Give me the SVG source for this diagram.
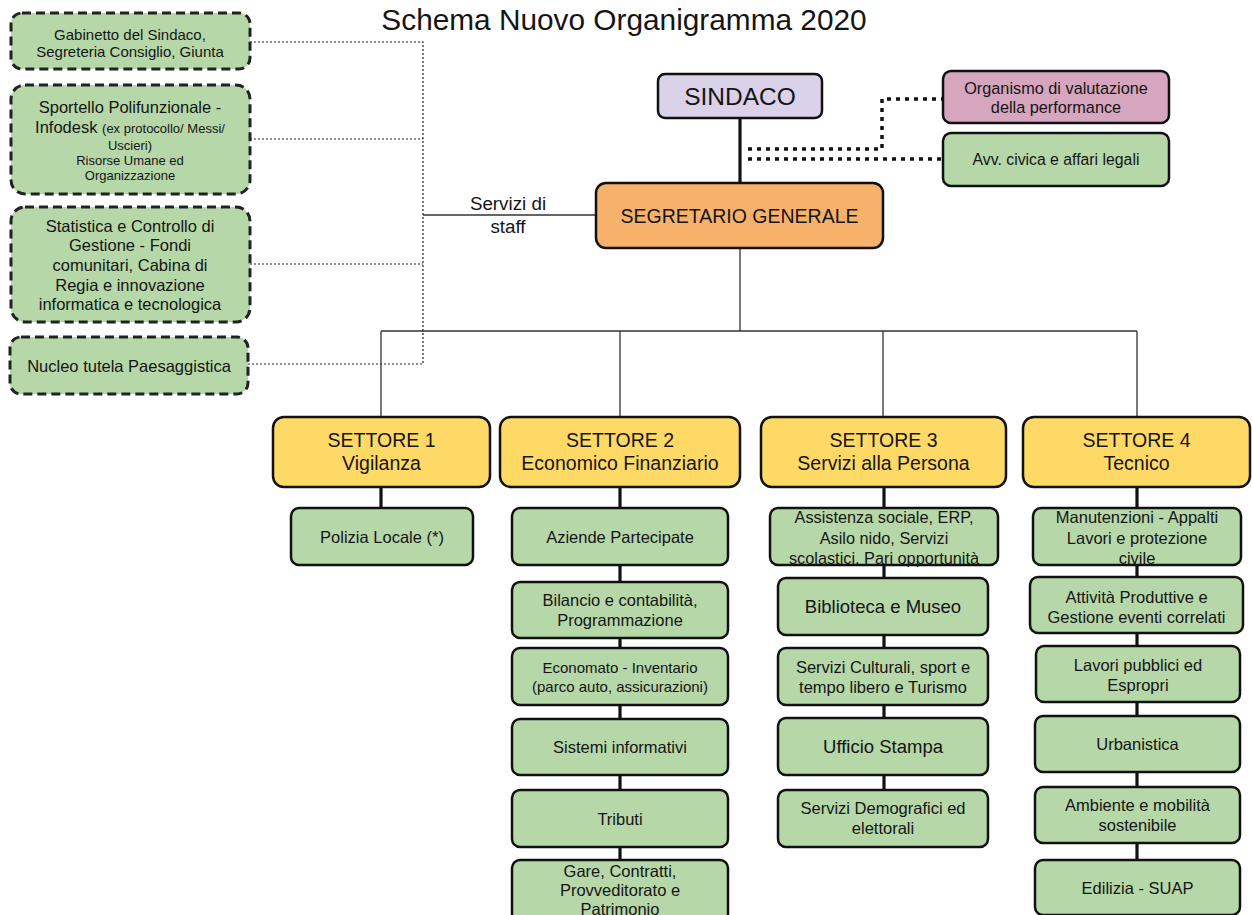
<svg xmlns="http://www.w3.org/2000/svg" width="1252" height="915" viewBox="0 0 1252 915">
<style>
text{font-family:"Liberation Sans",Arial,sans-serif;fill:#151515;text-anchor:middle}
.box{stroke:#111;stroke-width:2.5}
.dash{fill:#b6d7a8;stroke:#222;stroke-width:3;stroke-dasharray:9 5}
.g{fill:#b6d7a8}
.y{fill:#ffd966}
.t{font-size:16.5px}
.st{font-size:19.5px}
.thick{stroke:#111;stroke-width:3.2;fill:none}
.thin{stroke:#333;stroke-width:1.3;fill:none}
.dot{stroke:#222;stroke-width:1.2;stroke-dasharray:2 2;fill:none}
.bigdot{stroke:#111;stroke-width:3.5;stroke-dasharray:4 5;fill:none}
</style>
<rect width="1252" height="915" fill="#fff"/>
<text x="624" y="30" style="font-size:29.8px">Schema Nuovo Organigramma 2020</text>

<g id="connectors">
<path class="dot" d="M250 42H423V365M250 139H423M250 264H423M248 364H423"/>
<path class="thin" d="M423 215H597"/>
<path class="thick" d="M740 118V183"/>
<path class="bigdot" d="M748 149H882V99H943M748 159H943"/>
<path class="thin" d="M740 248V331M381 331H1137M381 331V417M620 331V417M883 331V417M1137 331V417"/>
<path class="thick" d="M381 487V508M620 487V860M884 487V790M1137 487V860"/>
</g>
<text x="508" y="210" style="font-size:18.8px">Servizi di</text>
<text x="508" y="233" style="font-size:18.8px">staff</text>

<g id="gabinetto"><rect class="dash" x="11" y="13" width="239" height="56" rx="11"/>
<text x="130" y="40" style="font-size:15px">Gabinetto del Sindaco,</text>
<text x="130" y="57" style="font-size:15px">Segreteria Consiglio, Giunta</text></g>

<g id="sportello"><rect class="dash" x="11" y="85" width="239" height="109" rx="14"/>
<text x="130" y="113" class="t">Sportello Polifunzionale -</text>
<text x="130" y="133" class="t">Infodesk <tspan style="font-size:13px">(ex protocollo/ Messi/</tspan></text>
<text x="130" y="150" style="font-size:13px">Uscieri)</text>
<text x="130" y="165" style="font-size:13px">Risorse Umane ed</text>
<text x="130" y="180" style="font-size:13px">Organizzazione</text></g>

<g id="statistica"><rect class="dash" x="11" y="207" width="239" height="115" rx="14"/>
<text x="130" y="232" class="t">Statistica e Controllo di</text>
<text x="130" y="251" class="t">Gestione - Fondi</text>
<text x="130" y="271" class="t">comunitari, Cabina di</text>
<text x="130" y="291" class="t">Regia e innovazione</text>
<text x="130" y="310" class="t">informatica e tecnologica</text></g>

<g id="nucleo"><rect class="dash" x="10" y="337" width="238" height="57" rx="11"/>
<text x="129" y="372" class="t">Nucleo tutela Paesaggistica</text></g>

<g id="sindaco"><rect class="box" x="658" y="74" width="164" height="44" rx="7" fill="#d9d2e9"/>
<text x="740" y="105" style="font-size:24.5px">SINDACO</text></g>

<g id="segretario"><rect class="box" x="596" y="183" width="287" height="65" rx="10" fill="#f6b26b"/>
<text x="739.5" y="222.5" class="st">SEGRETARIO GENERALE</text></g>

<g id="organismo"><rect class="box" x="943" y="71" width="226" height="52" rx="8" fill="#d5a6bd"/>
<text x="1056" y="94" style="font-size:16.3px">Organismo di valutazione</text>
<text x="1056" y="113" style="font-size:16.3px">della performance</text></g>

<g id="avv"><rect class="box g" x="943" y="133" width="226" height="53" rx="8"/>
<text x="1056" y="165" style="font-size:15.8px">Avv. civica e affari legali</text></g>

<g id="settore1"><rect class="box y" x="273" y="417" width="217" height="70" rx="11"/>
<text x="381.5" y="447" class="st">SETTORE 1</text><text x="381.5" y="470" class="st">Vigilanza</text></g>
<g id="settore2"><rect class="box y" x="500" y="417" width="240" height="70" rx="11"/>
<text x="620" y="447" class="st">SETTORE 2</text><text x="620" y="470" class="st">Economico Finanziario</text></g>
<g id="settore3"><rect class="box y" x="761" y="417" width="245" height="70" rx="11"/>
<text x="883.5" y="447" class="st">SETTORE 3</text><text x="883.5" y="470" class="st">Servizi alla Persona</text></g>
<g id="settore4"><rect class="box y" x="1023" y="417" width="227" height="70" rx="11"/>
<text x="1136.5" y="447" class="st">SETTORE 4</text><text x="1136.5" y="470" class="st">Tecnico</text></g>

<g id="polizia"><rect class="box g" x="291" y="508" width="182" height="57" rx="8"/>
<text x="382" y="542.5" class="t">Polizia Locale (*)</text></g>

<g id="aziende"><rect class="box g" x="512" y="508" width="216" height="57" rx="8"/>
<text x="620" y="542.5" class="t">Aziende Partecipate</text></g>
<g id="bilancio"><rect class="box g" x="512" y="582" width="216" height="56" rx="8"/>
<text x="620" y="606" class="t">Bilancio e contabilità,</text><text x="620" y="626" class="t">Programmazione</text></g>
<g id="economato"><rect class="box g" x="512" y="648" width="216" height="57" rx="8"/>
<text x="620" y="673" style="font-size:15px">Economato - Inventario</text><text x="620" y="692" style="font-size:15px">(parco auto, assicurazioni)</text></g>
<g id="sistemi"><rect class="box g" x="512" y="719" width="216" height="56" rx="8"/>
<text x="620" y="753" class="t">Sistemi informativi</text></g>
<g id="tributi"><rect class="box g" x="512" y="790" width="216" height="57" rx="8"/>
<text x="620" y="824.5" class="t">Tributi</text></g>
<g id="gare"><rect class="box g" x="512" y="860" width="216" height="66" rx="8"/>
<text x="620" y="877" class="t">Gare, Contratti,</text><text x="620" y="896" class="t">Provveditorato e</text><text x="620" y="915" class="t">Patrimonio</text></g>

<g id="assistenza"><rect class="box g" x="770" y="508" width="228" height="57" rx="8"/>
<text x="884" y="523" style="font-size:16.3px">Assistenza sociale, ERP,</text><text x="884" y="544" style="font-size:16.3px">Asilo nido, Servizi</text><text x="884" y="564" style="font-size:16.3px">scolastici, Pari opportunità</text></g>
<g id="biblioteca"><rect class="box g" x="778" y="578" width="210" height="57" rx="8"/>
<text x="883" y="613" style="font-size:18.5px">Biblioteca e Museo</text></g>
<g id="culturali"><rect class="box g" x="778" y="648" width="210" height="57" rx="8"/>
<text x="883" y="673" class="t">Servizi Culturali, sport e</text><text x="883" y="693" class="t">tempo libero e Turismo</text></g>
<g id="stampa"><rect class="box g" x="778" y="718" width="210" height="57" rx="8"/>
<text x="883" y="753" style="font-size:18.5px">Ufficio Stampa</text></g>
<g id="demografici"><rect class="box g" x="778" y="790" width="210" height="57" rx="8"/>
<text x="883" y="814" class="t">Servizi Demografici ed</text><text x="883" y="834" class="t">elettorali</text></g>

<g id="manutenzioni"><rect class="box g" x="1033" y="508" width="208" height="57" rx="8"/>
<text x="1137" y="523" class="t">Manutenzioni - Appalti</text><text x="1137" y="544" class="t">Lavori e protezione</text><text x="1137" y="564" class="t">civile</text></g>
<g id="attivita"><rect class="box g" x="1030" y="577" width="213" height="56" rx="8"/>
<text x="1136.5" y="603" class="t">Attività Produttive e</text><text x="1136.5" y="623" class="t">Gestione eventi correlati</text></g>
<g id="lavori"><rect class="box g" x="1036" y="646" width="204" height="56" rx="8"/>
<text x="1138" y="671" class="t">Lavori pubblici ed</text><text x="1138" y="691" class="t">Espropri</text></g>
<g id="urbanistica"><rect class="box g" x="1035" y="716" width="205" height="56" rx="8"/>
<text x="1137.5" y="750" class="t">Urbanistica</text></g>
<g id="ambiente"><rect class="box g" x="1035" y="787" width="205" height="56" rx="8"/>
<text x="1137.5" y="811" class="t">Ambiente e mobilità</text><text x="1137.5" y="831" class="t">sostenibile</text></g>
<g id="edilizia"><rect class="box g" x="1035" y="860" width="205" height="55" rx="8"/>
<text x="1137.5" y="894" class="t">Edilizia - SUAP</text></g>
</svg>
